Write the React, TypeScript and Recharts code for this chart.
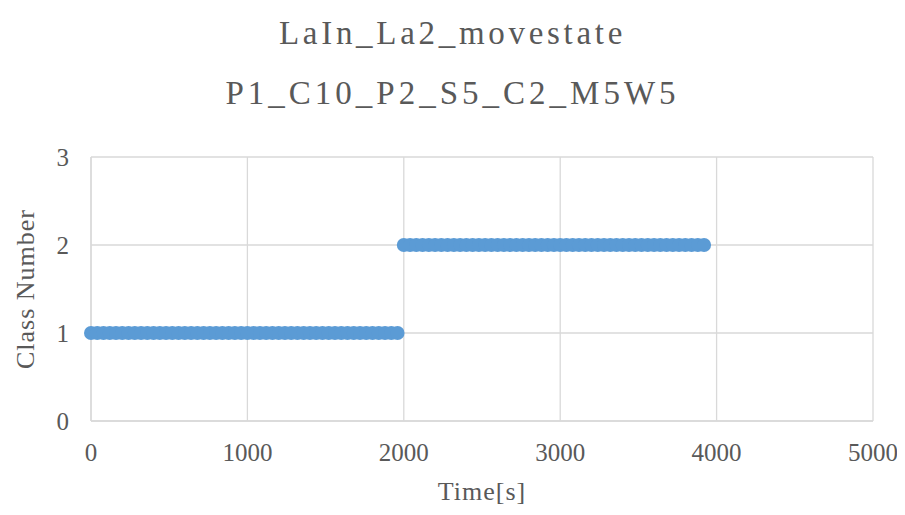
import { ScatterChart, Scatter, XAxis, YAxis, CartesianGrid, Label } from 'recharts';

// time stamps [s] for each sample (~40 s spacing)
const timesState1 = [
  0, 40, 80, 120, 160, 200, 240, 280, 320, 360,
  400, 440, 480, 520, 560, 600, 640, 680, 720, 760,
  800, 840, 880, 920, 960, 1000, 1040, 1080, 1120, 1160,
  1200, 1240, 1280, 1320, 1360, 1400, 1440, 1480, 1520, 1560,
  1600, 1640, 1680, 1720, 1760, 1800, 1840, 1880, 1920, 1960,
];
const timesState2 = [
  2000, 2040, 2080, 2120, 2160, 2200, 2240, 2280, 2320, 2360,
  2400, 2440, 2480, 2520, 2560, 2600, 2640, 2680, 2720, 2760,
  2800, 2840, 2880, 2920, 2960, 3000, 3040, 3080, 3120, 3160,
  3200, 3240, 3280, 3320, 3360, 3400, 3440, 3480, 3520, 3560,
  3600, 3640, 3680, 3720, 3760, 3800, 3840, 3880, 3920,
];
const classState1 = 1;
const classState2 = 2;

const xTicks = [0, 1000, 2000, 3000, 4000, 5000];
const yTicks = [0, 1, 2, 3];

const points = [
  ...timesState1.map((t) => ({ time: t, cls: classState1 })),
  ...timesState2.map((t) => ({ time: t, cls: classState2 })),
];

const FONT = '"Liberation Serif", "DejaVu Serif", serif';
const TEXT = '#595959';

const titleStyle = {
  position: 'absolute' as const,
  width: 905,
  textAlign: 'center' as const,
  color: TEXT,
  fontSize: 33,
  letterSpacing: 3.7,
  lineHeight: '40px',
};

const App = () => {
  return (
    <div style={{ position: 'relative', width: 905, height: 515, margin: -8, background: '#fff', fontFamily: FONT }}>
      <div style={{ ...titleStyle, top: 13 }}>LaIn_La2_movestate</div>
      <div style={{ ...titleStyle, top: 73, letterSpacing: 4 }}>P1_C10_P2_S5_C2_M5W5</div>
      <ScatterChart width={905} height={515} margin={{ top: 157, right: 32, bottom: 0, left: 0 }}>
        <CartesianGrid stroke="#d9d9d9" strokeWidth={1.3} />
        <XAxis
          type="number"
          dataKey="time"
          domain={[0, 5000]}
          ticks={xTicks}
          height={94}
          tickSize={0}
          tickMargin={22}
          axisLine={{ stroke: '#d9d9d9', strokeWidth: 1.3 }}
          tick={{ fill: TEXT, fontSize: 25, fontFamily: FONT }}
        >
          <Label value="Time[s]" position="insideBottom" offset={15} fill={TEXT} fontSize={26} fontFamily={FONT} letterSpacing={1} />
        </XAxis>
        <YAxis
          type="number"
          dataKey="cls"
          domain={[0, 3]}
          ticks={yTicks}
          width={91}
          tickSize={0}
          tickMargin={22}
          axisLine={{ stroke: '#d9d9d9', strokeWidth: 1.3 }}
          tick={{ fill: TEXT, fontSize: 25, fontFamily: FONT }}
        >
          <Label value="Class Number" angle={-90} position="insideLeft" offset={25} fill={TEXT} fontSize={26} fontFamily={FONT} letterSpacing={1} style={{ textAnchor: 'middle' }} />
        </YAxis>
        <Scatter
          data={points}
          fill="#5b9bd5"
          isAnimationActive={false}
          shape={(p: any) => <circle cx={p.cx} cy={p.cy} r={7} fill="#5b9bd5" />}
        />
      </ScatterChart>
    </div>
  );
};

export default App;
